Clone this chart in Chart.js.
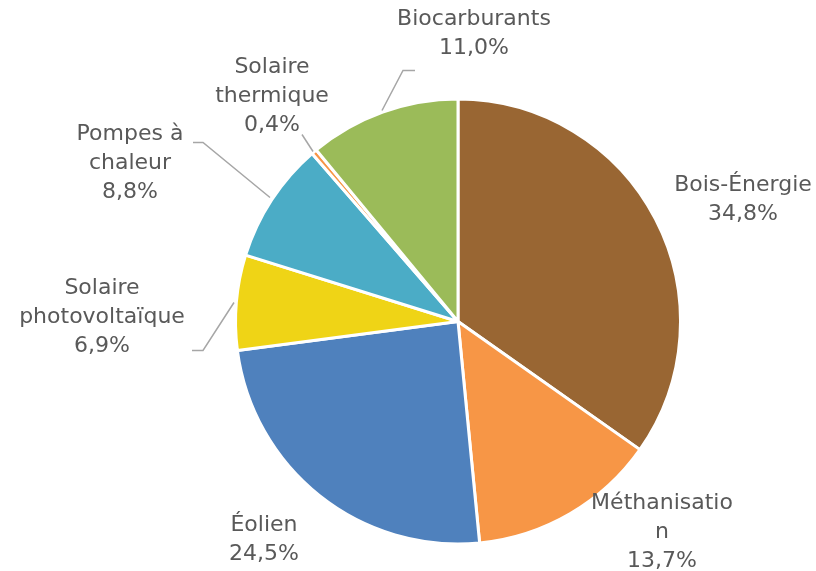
<html lang="fr">
<head>
<meta charset="UTF-8">
<title>Répartition des énergies renouvelables</title>
<script src="https://cdn.jsdelivr.net/npm/chart.js"></script>
<style>
  body, html { margin: 0; background: #fff; }
  #wrap { width: 816px; height: 571px; }
</style>
</head>
<body>
<div id="wrap"><canvas id="pie"></canvas></div>
<script>
  // data
  var categories = ['Bois-Énergie', 'Méthanisation', 'Éolien', 'Solaire photovoltaïque',
                    'Pompes à chaleur', 'Solaire thermique', 'Biocarburants'];
  var values = [34.8, 13.7, 24.5, 6.9, 8.8, 0.4, 11.0];
  var colors = ['#996633', '#F79646', '#4F81BD', '#EFD416', '#4BACC6', '#F79646', '#9BBB59'];

  // how each label is written (line breaks as in the picture)
  var labelLines = [
    ['Bois-Énergie'], ['Méthanisatio', 'n'], ['Éolien'], ['Solaire', 'photovoltaïque'],
    ['Pompes à', 'chaleur'], ['Solaire', 'thermique'], ['Biocarburants']
  ];

  // label centre offsets from pie centre, and leader lines (px)
  var labelPos = [[285, -122], [204, 211], [-194, 218], [-356, -4], [-328, -158], [-186, -225], [16, -288]];
  var leaders = [null, null, null,
    [[-266, 29], [-255, 29], [-224, -19]],
    [[-265, -179], [-255, -179], [-188, -124]],
    [[-156, -187], [-145, -170]],
    [[-43, -251], [-55, -251], [-76, -211]]];

  function fmt(v) { return v.toFixed(1).replace('.', ',') + '%'; }

  var labelPlugin = {
    id: 'outLabels',
    afterDraw: function(chart) {
      var ctx = chart.ctx;
      var arc = chart.getDatasetMeta(0).data[0];
      var cx = arc.x, cy = arc.y;
      ctx.save();
      ctx.strokeStyle = '#A6A6A6';
      ctx.lineWidth = 1.5;
      leaders.forEach(function(l) {
        if (!l) return;
        ctx.beginPath();
        ctx.moveTo(cx + l[0][0], cy + l[0][1]);
        for (var i = 1; i < l.length; i++) ctx.lineTo(cx + l[i][0], cy + l[i][1]);
        ctx.stroke();
      });
      ctx.fillStyle = '#595959';
      ctx.font = '22px "DejaVu Sans", sans-serif';
      ctx.textAlign = 'center';
      ctx.textBaseline = 'middle';
      var lh = 29;
      categories.forEach(function(c, i) {
        var lines = labelLines[i].concat([fmt(values[i])]);
        var x = cx + labelPos[i][0], y = cy + labelPos[i][1];
        var top = y - (lines.length - 1) * lh / 2;
        lines.forEach(function(t, k) { ctx.fillText(t, x, top + k * lh); });
      });
      ctx.restore();
    }
  };

  new Chart(document.getElementById('pie'), {
    type: 'pie',
    data: {
      labels: categories,
      datasets: [{
        data: values,
        backgroundColor: colors,
        borderColor: '#ffffff',
        borderWidth: 3
      }]
    },
    options: {
      responsive: true,
      maintainAspectRatio: false,
      animation: false,
      layout: { padding: { top: 97, bottom: 25, left: 234, right: 134 } },
      plugins: { legend: { display: false }, tooltip: { enabled: false } }
    },
    plugins: [labelPlugin]
  });
</script>
</body>
</html>
